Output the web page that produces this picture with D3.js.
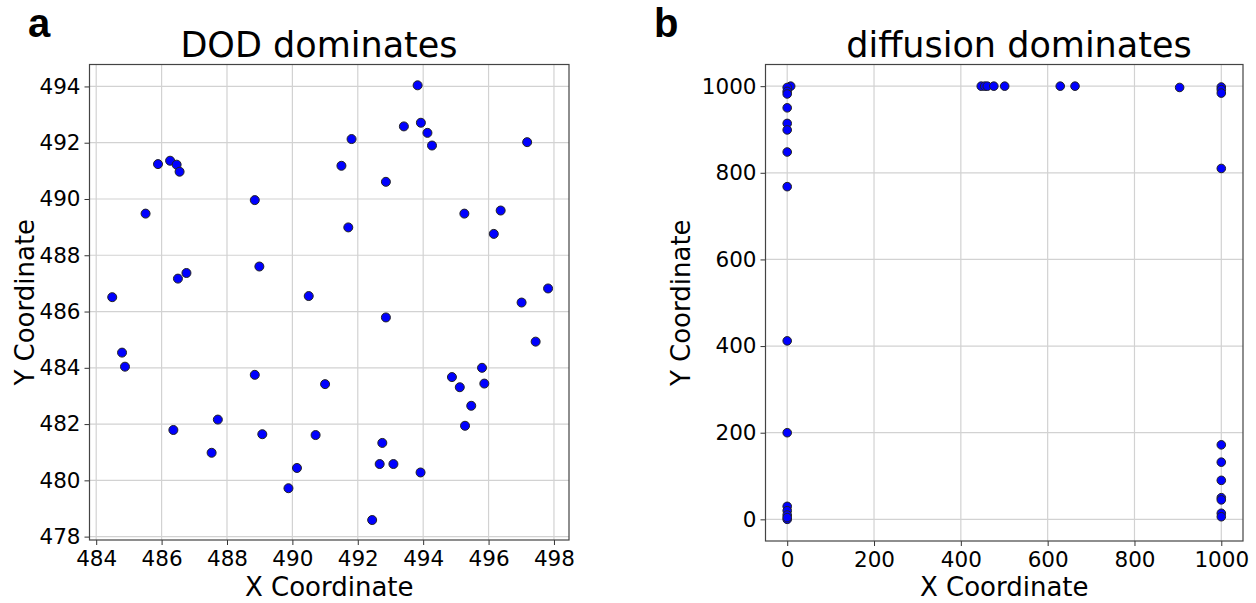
<!DOCTYPE html>
<html>
<head>
<meta charset="utf-8">
<script src="https://d3js.org/d3.v7.min.js"></script>
<style>
  body { margin: 0; background: #fff; }
  text { font-family: "DejaVu Sans", sans-serif; fill: #000; }
</style>
</head>
<body>
<svg id="chart" width="1256" height="603"></svg>
<script>
// panel a: DOD dominates
var dodX = [485.89, 486.26, 486.46, 486.55, 485.51, 488.85, 488.99, 486.50, 486.76, 484.49,
            490.50, 493.83, 493.41, 493.93, 494.13, 494.27, 491.81, 491.50, 492.86, 497.18,
            495.26, 496.37, 496.16, 491.71, 497.01, 497.82, 484.79, 484.88, 488.85, 486.36,
            487.72, 487.53, 489.08, 490.71, 490.14, 489.88, 492.86, 491.00, 492.75, 492.67,
            493.09, 493.92, 492.44, 494.88, 495.12, 495.80, 495.87, 495.47, 495.28, 497.44];
var dodY = [491.24, 491.36, 491.22, 490.97, 489.48, 489.96, 487.60, 487.17, 487.37, 486.51,
            486.55, 494.04, 492.58, 492.71, 492.35, 491.90, 492.13, 491.18, 490.61, 492.02,
            489.48, 489.59, 488.76, 488.99, 486.32, 486.82, 484.54, 484.04, 483.75, 481.79,
            482.16, 480.98, 481.64, 481.61, 480.44, 479.72, 485.79, 483.42, 481.33, 480.58,
            480.58, 480.28, 478.59, 483.67, 483.31, 484.00, 483.44, 482.65, 481.94, 484.93];
var dodXTicks = [484, 486, 488, 490, 492, 494, 496, 498];
var dodYTicks = [478, 480, 482, 484, 486, 488, 490, 492, 494];

// panel b: diffusion dominates
var difX = [8, 0, 0, 0, 0, 0, 0, 0, 0, 0, 0, 0, 0, 0, 0, 0,
            447, 455, 461, 476, 501, 629, 663, 904,
            1000, 1000, 1000, 1000, 1000, 1000, 1000, 1000, 1000, 1000, 1000];
var difY = [1000, 997, 988, 982, 950, 914, 899, 848, 768, 412, 200, 30, 20, 10, 0, 4,
            1000, 1000, 1000, 1000, 1000, 1000, 1000, 997,
            998, 992, 984, 810, 172, 132, 90, 50, 45, 14, 6];
var difTicks = [0, 200, 400, 600, 800, 1000];

var svg = d3.select("#chart");

function panel(opt) {
    var g = svg.append("g");
    var x = d3.scaleLinear().domain(opt.xd).range([opt.left, opt.right]);
    var y = d3.scaleLinear().domain(opt.yd).range([opt.bottom, opt.top]);

    // grid
    g.selectAll(".gx").data(opt.xt).enter().append("line")
        .attr("x1", d => x(d)).attr("x2", d => x(d))
        .attr("y1", opt.top).attr("y2", opt.bottom)
        .attr("stroke", "#d2d2d2").attr("stroke-width", 1.2);
    g.selectAll(".gy").data(opt.yt).enter().append("line")
        .attr("y1", d => y(d)).attr("y2", d => y(d))
        .attr("x1", opt.left).attr("x2", opt.right)
        .attr("stroke", "#d2d2d2").attr("stroke-width", 1.2);

    // axes
    var fmt = d3.format("d");
    var xa = g.append("g").attr("transform", "translate(0," + opt.bottom + ")")
        .call(d3.axisBottom(x).tickValues(opt.xt).tickFormat(fmt).tickSize(5).tickPadding(3).tickSizeOuter(0));
    var ya = g.append("g").attr("transform", "translate(" + opt.left + ",0)")
        .call(d3.axisLeft(y).tickValues(opt.yt).tickFormat(fmt).tickSize(5).tickPadding(4).tickSizeOuter(0));
    [xa, ya].forEach(function (a) {
        a.select(".domain").remove();
        a.selectAll("line").attr("stroke", "#333");
        a.selectAll("text").style("font-size", "21.5px").style("font-family", "DejaVu Sans");
    });
    xa.selectAll("text").attr("dy", "0.85em");

    // points
    g.selectAll("circle").data(opt.xs).enter().append("circle")
        .attr("cx", (d, i) => x(d))
        .attr("cy", (d, i) => y(opt.ys[i]))
        .attr("r", opt.r)
        .attr("fill", "#0000ff")
        .attr("stroke", "#222")
        .attr("stroke-width", 1);

    // frame
    g.append("rect")
        .attr("x", opt.left).attr("y", opt.top)
        .attr("width", opt.right - opt.left).attr("height", opt.bottom - opt.top)
        .attr("fill", "none").attr("stroke", "#444").attr("stroke-width", 1.2);

    var cx = (opt.left + opt.right) / 2, cy = (opt.top + opt.bottom) / 2;
    g.append("text").attr("x", opt.tx).attr("y", 57)
        .attr("text-anchor", "middle").style("font-size", "35px").text(opt.title);
    g.append("text").attr("x", cx).attr("y", 596)
        .attr("text-anchor", "middle").style("font-size", "26px").text("X Coordinate");
    g.append("text").attr("transform", "translate(" + opt.ylx + "," + cy + ") rotate(-90)")
        .attr("text-anchor", "middle").style("font-size", "26px").text("Y Coordinate");
    g.append("text").attr("x", opt.lx).attr("y", 37)
        .style("font-family", "Liberation Sans, Arial, sans-serif")
        .style("font-weight", "bold").style("font-size", "40px").text(opt.letter);
}

panel({
    xd: [483.795, 498.46], yd: [477.88, 494.78],
    left: 89.5, right: 569, top: 64.5, bottom: 540,
    xt: dodXTicks, yt: dodYTicks, xs: dodX, ys: dodY, r: 4.5,
    title: "DOD dominates", tx: 319, ylx: 34, letter: "a", lx: 28
});

panel({
    xd: [-50, 1050], yd: [-50, 1050],
    left: 765.5, right: 1243, top: 64.5, bottom: 541,
    xt: difTicks, yt: difTicks, xs: difX, ys: difY, r: 4.3,
    title: "diffusion dominates", tx: 1019, ylx: 690, letter: "b", lx: 654
});
</script>
</body>
</html>
